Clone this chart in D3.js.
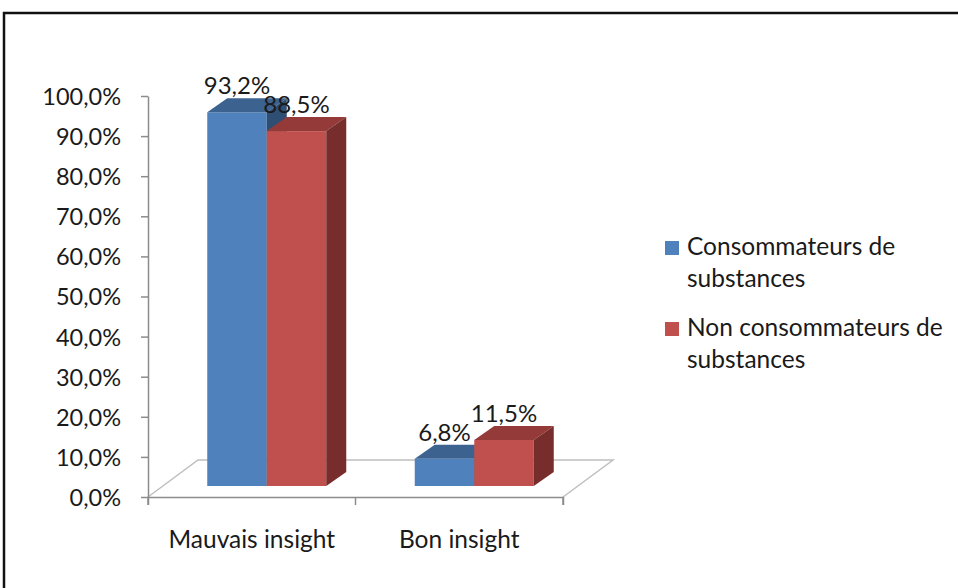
<!DOCTYPE html>
<meta charset="utf-8">
<html lang="fr">
<style>
body { margin: 0; background: #fff; }
text { font-family: Lato, "Open Sans", sans-serif; fill: #1a1a1a; }
.floor { fill: none; stroke: #bfbfbf; stroke-width: 1.5px; }
.axis line, .axis path { stroke: #8c8c8c; stroke-width: 1.5px; }
</style>
<body>
<script src="https://d3js.org/d3.v7.min.js"></script>
<script>

var categories = ["Mauvais insight", "Bon insight"];
var series = ["Consommateurs de substances", "Non consommateurs de substances"];
var legendLines = [["Consommateurs de", "substances"], ["Non consommateurs de", "substances"]];
var consommateurs = [0.932, 0.068];
var nonConsommateurs = [0.885, 0.115];
var yTicks = [0, 0.1, 0.2, 0.3, 0.4, 0.5, 0.6, 0.7, 0.8, 0.9, 1.0];

var colors = [
  {front: "#4f81bd", top: "#3c6290", side: "#2f4e74"},
  {front: "#c0504d", top: "#943b39", side: "#772d2b"}
];

var fr = d3.formatLocale({decimal: ",", thousands: " ", grouping: [3], currency: ["", " €"]});
var pct = fr.format(".1%");

var width = 958, height = 588;
var svg = d3.select("body").append("svg")
    .attr("width", width)
    .attr("height", height);

// chart frame
svg.append("rect")
    .attr("x", 4).attr("y", 13)
    .attr("width", 1000).attr("height", 1000)
    .attr("fill", "none").attr("stroke", "#111").attr("stroke-width", 2.5);

// scales
var plotLeft = 148, plotRight = 563, plotBottom = 497, plotTop = 96;
var x0 = d3.scaleBand().domain(categories).range([plotLeft, plotRight]);
var x1 = d3.scaleBand().domain(series).range([0, 119]);
var y = d3.scaleLinear().domain([0, 1]).range([plotBottom, plotTop]);

// 3D depth offsets
var floorD = {dx: 50, dy: -37};
var barFront = {dx: 15, dy: -11};
var barD = {dx: 20, dy: -14};

// floor
svg.append("path")
    .attr("class", "floor")
    .attr("d", "M" + plotLeft + "," + plotBottom +
       "L" + (plotLeft + floorD.dx) + "," + (plotBottom + floorD.dy) +
       "L" + (plotRight + floorD.dx) + "," + (plotBottom + floorD.dy) +
       "L" + plotRight + "," + plotBottom);

// y axis
var yAxis = svg.append("g")
    .attr("class", "axis")
    .attr("transform", "translate(" + plotLeft + ",0)")
    .call(d3.axisLeft(y).tickValues(yTicks).tickFormat(pct).tickSize(7).tickSizeOuter(0).tickPadding(20));
yAxis.selectAll("text").style("font-size", "23.5px").attr("dy", "0.36em");

// x axis
var xAxis = svg.append("g")
    .attr("class", "axis")
    .attr("transform", "translate(0," + plotBottom + ")")
    .call(d3.axisBottom(x0).tickValues([]).tickSizeOuter(8));
xAxis.selectAll(".catTick")
    .data(categories.concat(["end"]))
  .enter().append("line")
    .attr("x1", function(d, i) { return plotLeft + i * x0.bandwidth(); })
    .attr("x2", function(d, i) { return plotLeft + i * x0.bandwidth(); })
    .attr("y1", 0).attr("y2", 8);
xAxis.selectAll(".catLabel")
    .data(categories)
  .enter().append("text")
    .attr("x", function(d) { return x0(d) + x0.bandwidth() / 2; })
    .attr("y", 51)
    .attr("text-anchor", "middle")
    .style("font-size", "24.5px")
    .text(function(d) { return d; });

// bars
var bars = [];
categories.forEach(function(c, i) {
  [consommateurs[i], nonConsommateurs[i]].forEach(function(v, s) {
    bars.push({cat: c, s: s, v: v});
  });
});

bars.forEach(function(b) {
  var g = svg.append("g");
  var xl = x0(b.cat) + (x0.bandwidth() - 119) / 2 + barFront.dx + x1(series[b.s]);
  var xr = xl + x1.bandwidth();
  var yb = y(0) + barFront.dy;
  var yt = y(b.v) + barFront.dy;
  var c = colors[b.s];
  g.append("rect")
      .attr("x", xl).attr("y", yt)
      .attr("width", xr - xl).attr("height", yb - yt)
      .attr("fill", c.front);
  g.append("path")
      .attr("d", "M" + xl + "," + yt + "L" + (xl + barD.dx) + "," + (yt + barD.dy) +
         "L" + (xr + barD.dx) + "," + (yt + barD.dy) + "L" + xr + "," + yt + "Z")
      .attr("fill", c.top);
  g.append("path")
      .attr("d", "M" + xr + "," + yt + "L" + (xr + barD.dx) + "," + (yt + barD.dy) +
         "L" + (xr + barD.dx) + "," + (yb + barD.dy) + "L" + xr + "," + yb + "Z")
      .attr("fill", c.side);
});

// data labels
svg.selectAll(".valLabel")
    .data(bars)
  .enter().append("text")
    .attr("x", function(d) { return x0(d.cat) + (x0.bandwidth() - 119) / 2 + barFront.dx + x1(series[d.s]) + x1.bandwidth() / 2; })
    .attr("y", function(d) { return y(d.v) + barFront.dy + barD.dy - 4; })
    .attr("text-anchor", "middle")
    .style("font-size", "24px")
    .text(function(d) { return pct(d.v); });

// legend
var legend = svg.selectAll(".legend")
    .data(series)
  .enter().append("g")
    .attr("transform", function(d, i) { return "translate(665," + (241 + i * 81) + ")"; });
legend.append("rect")
    .attr("width", 14).attr("height", 14)
    .attr("fill", function(d, i) { return colors[i].front; });
legend.each(function(d, i) {
  d3.select(this).selectAll("text")
      .data(legendLines[i])
    .enter().append("text")
      .attr("x", 22)
      .attr("y", function(t, j) { return 14 + j * 32; })
      .style("font-size", "24.5px")
      .text(function(t) { return t; });
});

</script>
</body>
</html>
